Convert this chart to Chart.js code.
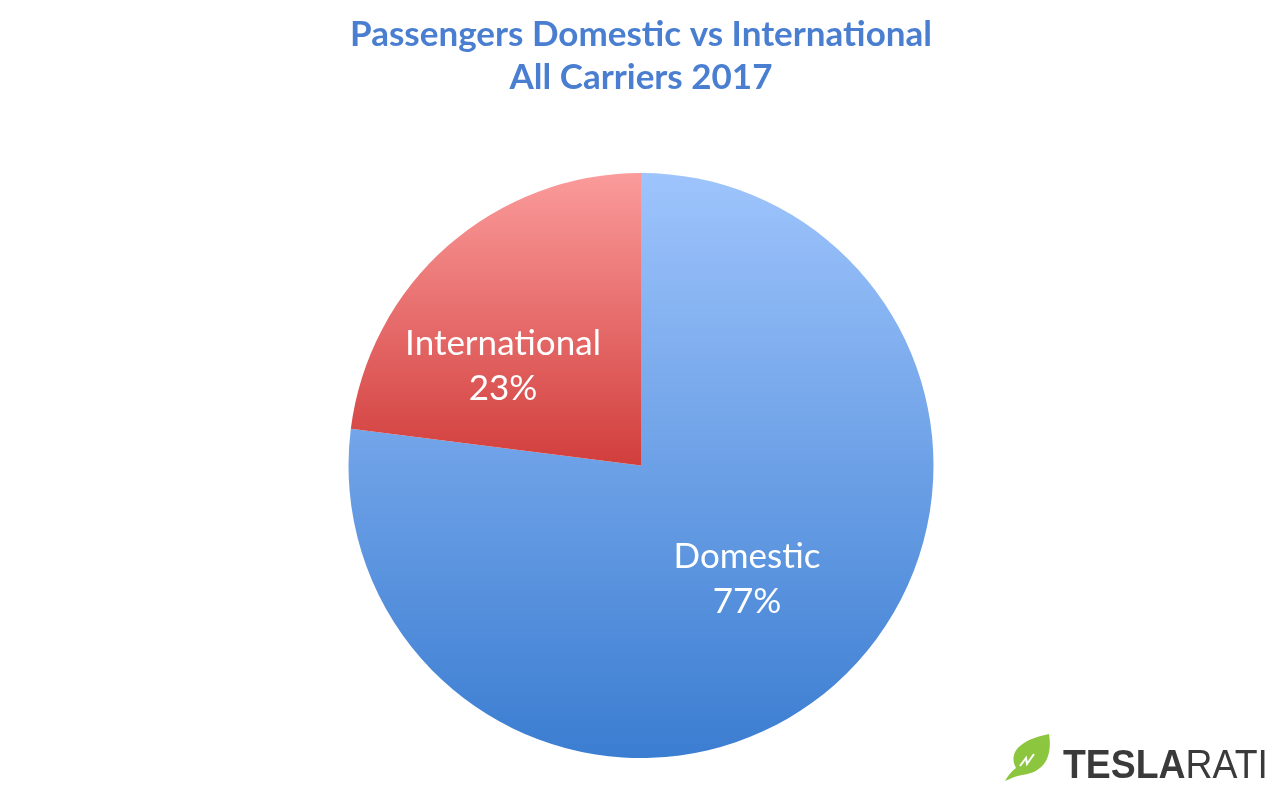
<!DOCTYPE html>
<html>
<head>
<meta charset="utf-8">
<script src="https://cdn.jsdelivr.net/npm/chart.js@4/dist/chart.umd.min.js"></script>
<style>
  html, body { margin: 0; padding: 0; background: #ffffff; }
  #wrap { width: 1279px; height: 808px; position: relative; }
</style>
</head>
<body>
<div id="wrap"><canvas id="c" width="1279" height="808"></canvas></div>
<script>
const categories = ["Domestic", "International"];
const shares = [77, 23];
const titleLines = ["Passengers Domestic vs International", "All Carriers 2017"];
const brand = ["TESLA", "RATI"];

const gradStops = [
  ["#9ec4fc", "#3b7dd1"],
  ["#fb9b9b", "#d13e3c"]
];
const labelOffsets = [[106, 113], [-138, -100]];

function sliceGradient(ctx) {
  const chart = ctx.chart;
  const ca = chart.chartArea;
  if (!ca) return gradStops[ctx.dataIndex][0];
  const cx = (ca.left + ca.right) / 2;
  const cy = (ca.top + ca.bottom) / 2;
  const r = Math.min(ca.right - ca.left, ca.bottom - ca.top) / 2;
  const vals = chart.data.datasets[0].data;
  const total = vals.reduce((a, b) => a + b, 0);
  let start = -Math.PI / 2;
  for (let i = 0; i < ctx.dataIndex; i++) start += vals[i] / total * 2 * Math.PI;
  const end = start + vals[ctx.dataIndex] / total * 2 * Math.PI;
  let minY = cy, maxY = cy;
  const n = 90;
  for (let i = 0; i <= n; i++) {
    const a = start + (end - start) * i / n;
    const yy = cy + r * Math.sin(a);
    minY = Math.min(minY, yy); maxY = Math.max(maxY, yy);
  }
  const g = chart.ctx.createLinearGradient(0, minY, 0, maxY);
  g.addColorStop(0, gradStops[ctx.dataIndex][0]);
  g.addColorStop(1, gradStops[ctx.dataIndex][1]);
  return g;
}

const overlay = {
  id: 'overlay',
  afterDatasetsDraw(chart) {
    const ctx = chart.ctx;
    const meta = chart.getDatasetMeta(0);
    ctx.save();
    ctx.fillStyle = '#ffffff';
    ctx.textAlign = 'center';
    ctx.textBaseline = 'middle';
    ctx.font = '35px Lato, "Open Sans", sans-serif';
    meta.data.forEach((el, i) => {
      const p = el.getProps(['x', 'y'], true);
      const x = p.x + labelOffsets[i][0];
      const y = p.y + labelOffsets[i][1];
      ctx.fillText(categories[i], x, y - 22);
      ctx.fillText(shares[i] + '%', x, y + 23);
    });
    ctx.restore();
  },
  afterDraw(chart) {
    const ctx = chart.ctx;
    ctx.save();
    // title
    ctx.fillStyle = '#4a7ed0';
    ctx.textAlign = 'center';
    ctx.textBaseline = 'middle';
    ctx.font = 'bold 35px Lato, "Open Sans", sans-serif';
    ctx.fillText(titleLines[0], 641, 35);
    ctx.fillText(titleLines[1], 641, 78);
    // leaf logo
    ctx.fillStyle = '#8cc63e';
    ctx.beginPath();
    ctx.moveTo(1005, 781);
    ctx.bezierCurveTo(1010, 772, 1014, 770, 1016, 768);
    ctx.bezierCurveTo(1008, 752, 1020, 740, 1049, 734);
    ctx.bezierCurveTo(1052, 752, 1048, 772, 1022, 775);
    ctx.bezierCurveTo(1016, 776, 1012, 778, 1005, 781);
    ctx.closePath();
    ctx.fill();
    ctx.strokeStyle = '#ffffff';
    ctx.lineWidth = 2;
    ctx.beginPath();
    ctx.moveTo(1020, 766);
    ctx.lineTo(1026, 758);
    ctx.lineTo(1027, 764);
    ctx.lineTo(1034, 754);
    ctx.stroke();
    // brand text, fitted into 1063..1268
    ctx.textAlign = 'left';
    ctx.textBaseline = 'alphabetic';
    ctx.fillStyle = '#3a3a3a';
    const base = 40;
    ctx.font = 'bold ' + base + 'px "Liberation Sans", Arial, sans-serif';
    const w1 = ctx.measureText(brand[0]).width;
    ctx.font = base + 'px "Liberation Sans", Arial, sans-serif';
    const w2 = ctx.measureText(brand[1]).width;
    const sx = 205 / (w1 + w2);
    ctx.translate(1063, 778);
    ctx.scale(sx, 1);
    ctx.font = 'bold ' + base + 'px "Liberation Sans", Arial, sans-serif';
    ctx.fillText(brand[0], 0, 0);
    ctx.font = base + 'px "Liberation Sans", Arial, sans-serif';
    ctx.fillText(brand[1], w1, 0);
    ctx.restore();
  }
};

new Chart(document.getElementById('c'), {
  type: 'pie',
  data: {
    labels: categories,
    datasets: [{
      data: shares,
      backgroundColor: sliceGradient,
      borderWidth: 0
    }]
  },
  options: {
    responsive: false,
    animation: false,
    rotation: 0,
    layout: { padding: { top: 173, bottom: 50, left: 3, right: 0 } },
    plugins: {
      legend: { display: false },
      title: { display: false },
      tooltip: { enabled: false }
    }
  },
  plugins: [overlay]
});
</script>
</body>
</html>
